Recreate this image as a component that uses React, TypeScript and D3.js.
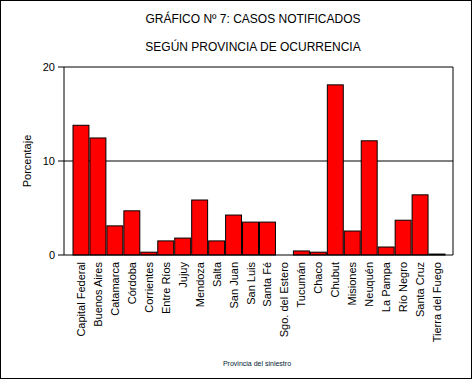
import React from "react";
import * as d3 from "d3";

const categories = [
  "Capital Federal", "Buenos Aires", "Catamarca", "Córdoba", "Corrientes", "Entre Ríos",
  "Jujuy", "Mendoza", "Salta", "San Juan", "San Luis", "Santa Fé", "Sgo. del Estero",
  "Tucumán", "Chaco", "Chubut", "Misiones", "Neuquén", "La Pampa", "Río Negro",
  "Santa Cruz", "Tierra del Fuego",
];
const values = [
  13.8, 12.45, 3.1, 4.7, 0.3, 1.5, 1.8, 5.85, 1.5, 4.25, 3.5, 3.5, 0,
  0.43, 0.3, 18.1, 2.55, 12.15, 0.85, 3.7, 6.4, 0.1,
];
const yTicks = [0, 10, 20];
const title1 = "GRÁFICO Nº 7: CASOS NOTIFICADOS";
const title2 = "SEGÚN PROVINCIA DE OCURRENCIA";
const yTitle = "Porcentaje";
const xTitle = "Provincia del siniestro";

export default function App() {
  const W = 474, H = 380;
  const plotL = 64, plotR = 453, plotT = 67, plotB = 255;
  const x = d3.scaleBand<string>().domain(categories).range([73, 445]).paddingInner(0.06).paddingOuter(0);
  const y = d3.scaleLinear().domain([0, 20]).range([plotB, plotT]);
  const font = "Arial, 'Liberation Sans', sans-serif";
  return (
    <svg width={W} height={H} style={{ position: "absolute", left: 0, top: 0, background: "#fff" }} fontFamily={font}>
      <rect x={0.5} y={0.5} width={471} height={378} fill="#fff" stroke="#000" strokeWidth={1} />
      <text x={253} y={23} textAnchor="middle" fontSize={12}>{title1}</text>
      <text x={253} y={51} textAnchor="middle" fontSize={12}>{title2}</text>
      {/* frame */}
      <line x1={plotL} x2={plotR} y1={y(20)} y2={y(20)} stroke="#000" />
      <line x1={plotR} x2={plotR} y1={y(20)} y2={y(0)} stroke="#000" />
      <line x1={plotL} x2={plotR} y1={y(10)} y2={y(10)} stroke="#000" />
      {categories.map((c, i) => (
        values[i] > 0 ? (
          <rect key={c} x={x(c)!} y={y(values[i])} width={x.bandwidth()} height={y(0) - y(values[i])}
            fill="#ff0000" stroke="#000" strokeWidth={1} />
        ) : null
      ))}
      <line x1={plotL} x2={plotR} y1={y(0)} y2={y(0)} stroke="#000" />
      <line x1={plotL} x2={plotL} y1={y(20)} y2={y(0)} stroke="#000" />
      {yTicks.map((t) => (
        <g key={t}>
          <line x1={plotL - 6} x2={plotL} y1={y(t)} y2={y(t)} stroke="#000" />
          <text x={plotL - 9} y={y(t) + 4} textAnchor="end" fontSize={11}>{t}</text>
        </g>
      ))}
      <text transform={`translate(31,${(plotT + plotB) / 2}) rotate(-90)`} textAnchor="middle" fontSize={11}>{yTitle}</text>
      {categories.map((c) => {
        const cx = x(c)! + x.bandwidth() / 2 + 4;
        return (
          <text key={c} transform={`translate(${cx},262) rotate(-90)`} textAnchor="end" fontSize={11}>{c}</text>
        );
      })}
      <text x={257} y={366} textAnchor="middle" fontSize={7} fill="#001a33">{xTitle}</text>
    </svg>
  );
}
